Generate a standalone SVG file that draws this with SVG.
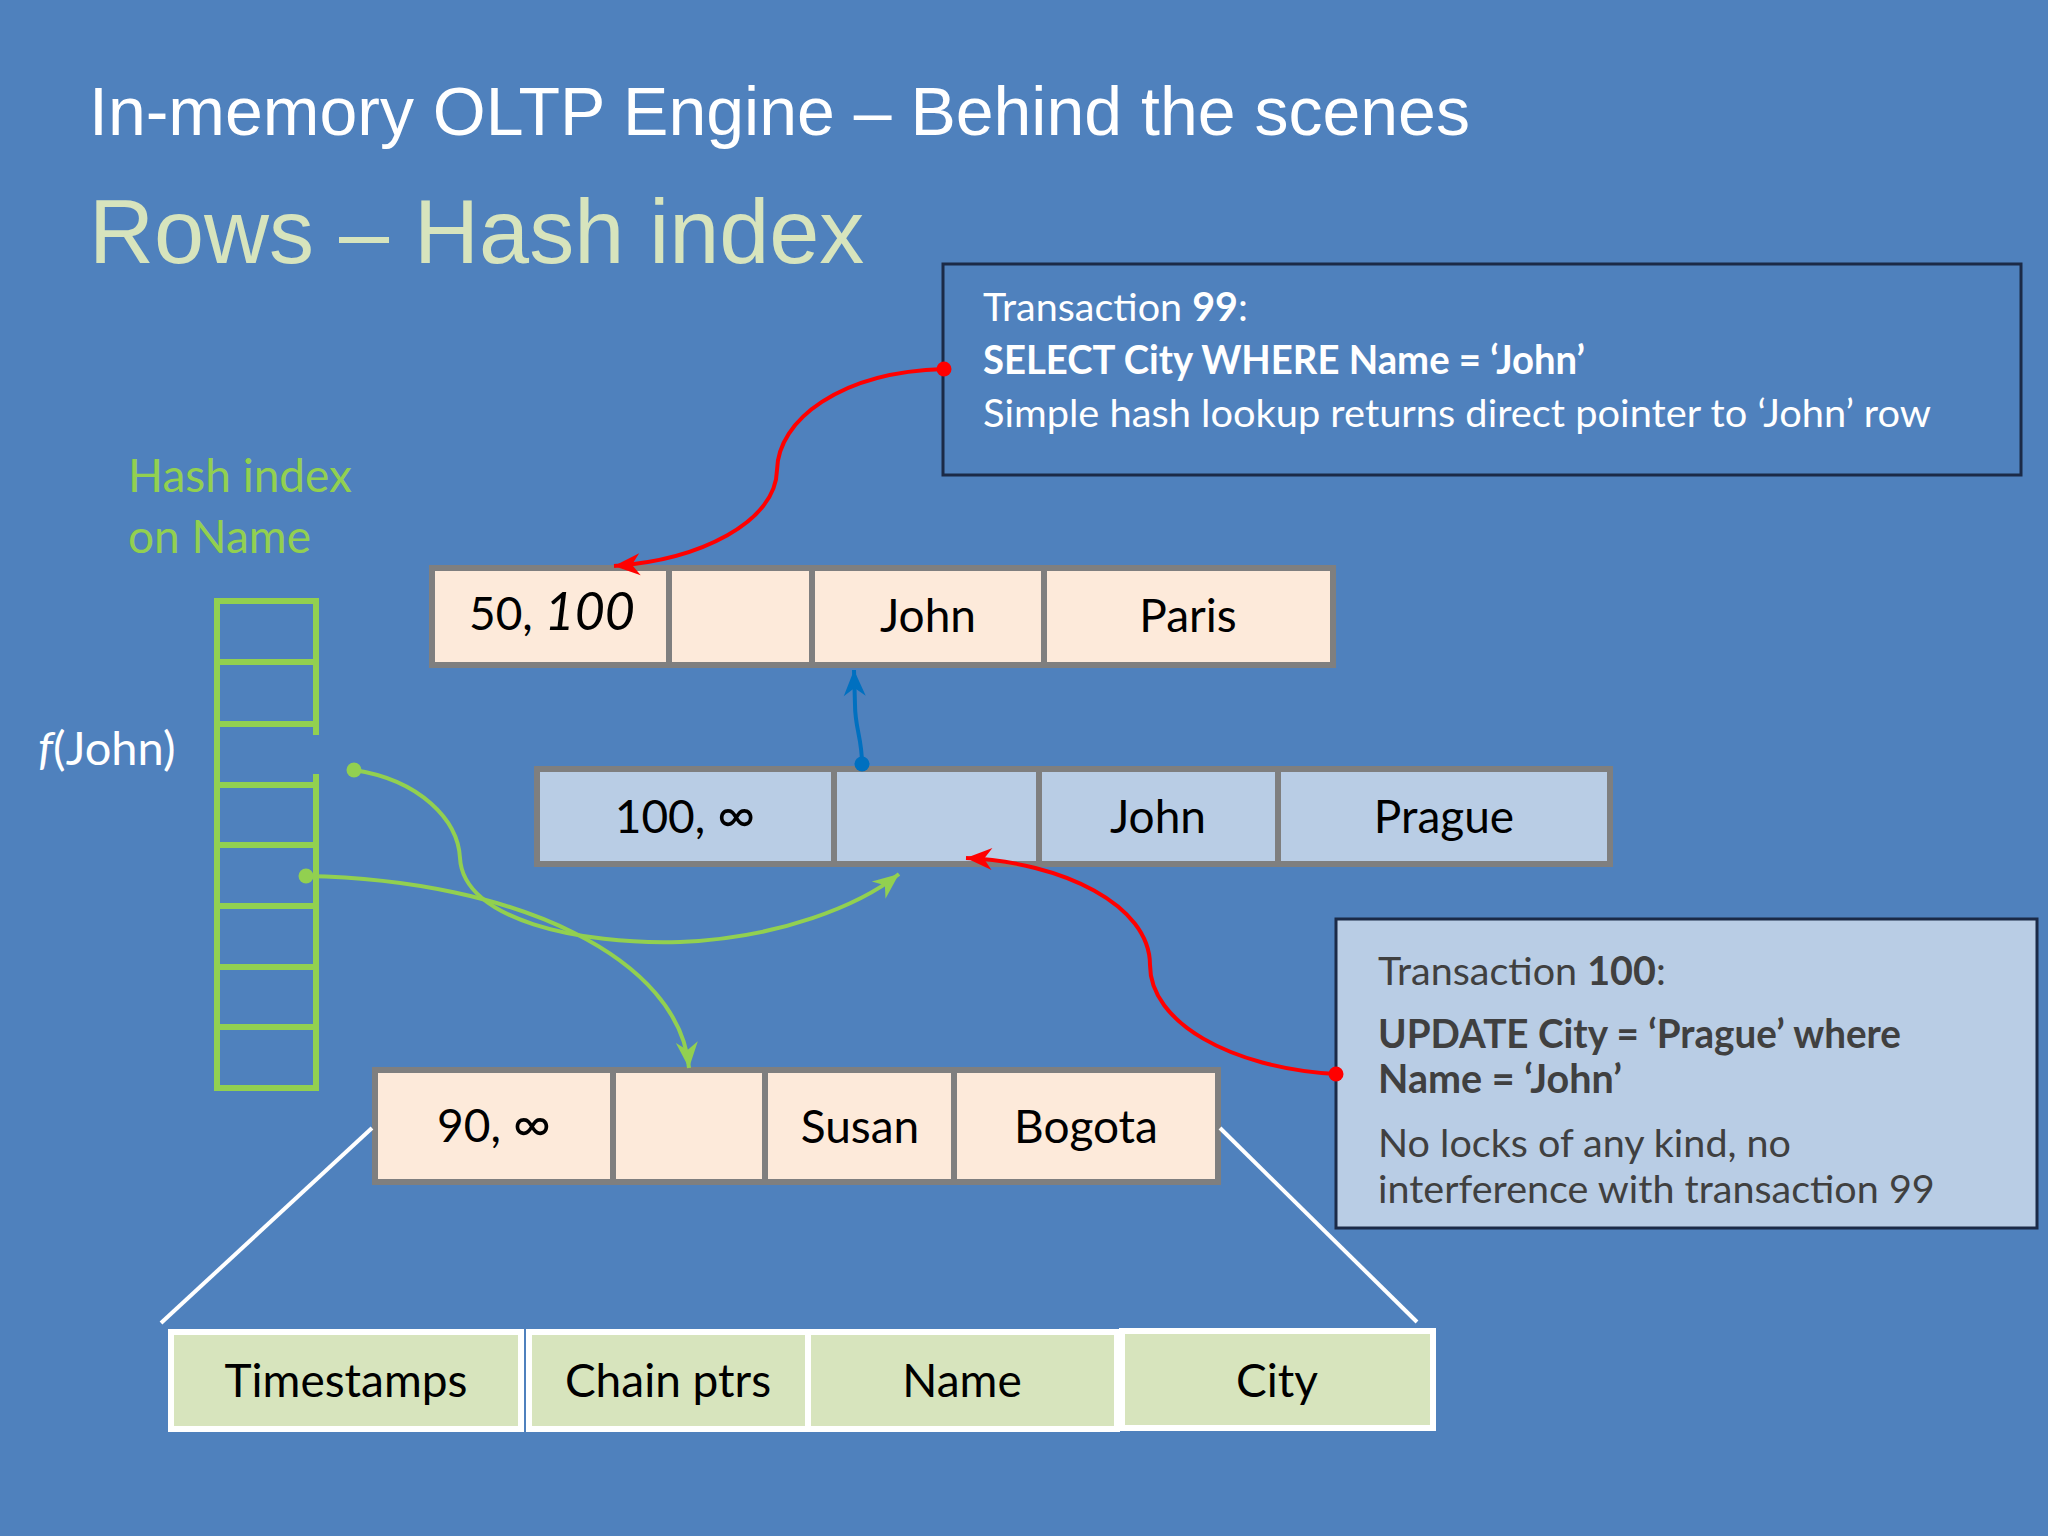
<svg xmlns="http://www.w3.org/2000/svg" width="2048" height="1536" viewBox="0 0 2048 1536">
  <defs>
    <style>
      .title { font-family: "Liberation Sans", Arial, sans-serif; }
      .cal { font-family: Lato, "Open Sans", sans-serif; }
      .cell { stroke: #7F7F7F; stroke-width: 6; }
      .div { stroke: #7F7F7F; stroke-width: 6; }
      .peach { fill: #FDEADA; }
      .lblue { fill: #B9CDE5; }
      .rowtxt { font-family: Lato, "Open Sans", sans-serif; font-size: 46px; fill: #000; text-anchor: middle; }
      .inf { font-size: 52px; }
      .legend rect { fill: #D7E4BD; stroke: #FFFFFF; stroke-width: 6; }
      .hash { stroke: #92D050; stroke-width: 6; fill: none; }
      .red { stroke: #FF0000; stroke-width: 4; fill: none; }
      .green { stroke: #92D050; stroke-width: 4; fill: none; }
      .blue { stroke: #0070C0; stroke-width: 4; fill: none; }
    </style>
    <marker id="arRed" viewBox="-28 -13 30 26" refX="0" refY="0" markerWidth="30" markerHeight="26" markerUnits="userSpaceOnUse" orient="auto">
      <path d="M0,0 L-26,-11 L-18,0 L-26,11 Z" fill="#FF0000"/>
    </marker>
    <marker id="arGreen" viewBox="-28 -13 30 26" refX="0" refY="0" markerWidth="30" markerHeight="26" markerUnits="userSpaceOnUse" orient="auto">
      <path d="M0,0 L-26,-11 L-18,0 L-26,11 Z" fill="#92D050"/>
    </marker>
    <marker id="arBlue" viewBox="-28 -13 30 26" refX="0" refY="0" markerWidth="30" markerHeight="26" markerUnits="userSpaceOnUse" orient="auto">
      <path d="M0,0 L-26,-11 L-18,0 L-26,11 Z" fill="#0070C0"/>
    </marker>
  </defs>

  <rect x="0" y="0" width="2048" height="1536" fill="#4F81BD"/>

  <text class="title" x="89" y="135" font-size="68" fill="#FFFFFF">In-memory OLTP Engine – Behind the scenes</text>
  <text class="title" x="89" y="263" font-size="90" fill="#D7E4BD">Rows – Hash index</text>

  <!-- Transaction 99 box -->
  <g id="tx99">
    <rect x="943" y="264" width="1078" height="211" fill="none" stroke="#1B2A47" stroke-width="3"/>
    <text class="cal" x="983" y="321" font-size="39.5" fill="#FFFFFF">Transaction <tspan font-weight="bold">99</tspan>:</text>
    <text class="cal" x="983" y="374" font-size="39.5" font-weight="bold" fill="#FFFFFF" textLength="602" lengthAdjust="spacingAndGlyphs">SELECT City WHERE Name = ‘John’</text>
    <text class="cal" x="983" y="427" font-size="39.5" fill="#FFFFFF" textLength="948" lengthAdjust="spacingAndGlyphs">Simple hash lookup returns direct pointer to ‘John’ row</text>
  </g>

  <!-- Hash index label -->
  <g id="hashlabel">
    <text class="cal" x="128" y="492" font-size="46" fill="#92D050">Hash index</text>
    <text class="cal" x="128" y="553" font-size="46" fill="#92D050">on Name</text>
  </g>

  <text id="fjohn" class="cal" x="38" y="765" font-size="47" fill="#FFFFFF"><tspan font-style="italic">f</tspan>(John)</text>

  <!-- Hash table -->
  <g id="hashtable" class="hash">
    <line x1="217" y1="601" x2="217" y2="1088"/>
    <line x1="316" y1="601" x2="316" y2="735"/>
    <line x1="316" y1="774" x2="316" y2="1088"/>
    <line x1="214" y1="601" x2="319" y2="601"/>
    <line x1="217" y1="662" x2="316" y2="662"/>
    <line x1="217" y1="724" x2="316" y2="724"/>
    <line x1="217" y1="785" x2="316" y2="785"/>
    <line x1="217" y1="845" x2="316" y2="845"/>
    <line x1="217" y1="906" x2="316" y2="906"/>
    <line x1="217" y1="967" x2="316" y2="967"/>
    <line x1="217" y1="1027" x2="316" y2="1027"/>
    <line x1="214" y1="1088" x2="319" y2="1088"/>
  </g>

  <!-- Row 1 -->
  <g id="row1">
    <rect class="cell peach" x="432" y="568" width="901" height="97"/>
    <line class="div" x1="669" y1="568" x2="669" y2="665"/>
    <line class="div" x1="812" y1="568" x2="812" y2="665"/>
    <line class="div" x1="1044" y1="568" x2="1044" y2="665"/>
    <text class="rowtxt" x="552" y="630">50, <tspan font-style="italic" font-size="52">100</tspan></text>
    <text class="rowtxt" x="928" y="632">John</text>
    <text class="rowtxt" x="1188" y="632">Paris</text>
  </g>

  <!-- Row 2 -->
  <g id="row2">
    <rect class="cell lblue" x="537" y="769" width="1073" height="95"/>
    <line class="div" x1="834" y1="769" x2="834" y2="864"/>
    <line class="div" x1="1039" y1="769" x2="1039" y2="864"/>
    <line class="div" x1="1278" y1="769" x2="1278" y2="864"/>
    <text class="rowtxt" x="685" y="833">100, <tspan class="inf">∞</tspan></text>
    <text class="rowtxt" x="1158" y="833">John</text>
    <text class="rowtxt" x="1444" y="833">Prague</text>
  </g>

  <!-- Row 3 -->
  <g id="row3">
    <rect class="cell peach" x="375" y="1070" width="843" height="112"/>
    <line class="div" x1="613" y1="1070" x2="613" y2="1182"/>
    <line class="div" x1="765" y1="1070" x2="765" y2="1182"/>
    <line class="div" x1="954" y1="1070" x2="954" y2="1182"/>
    <text class="rowtxt" x="494" y="1142">90, <tspan class="inf">∞</tspan></text>
    <text class="rowtxt" x="860" y="1143">Susan</text>
    <text class="rowtxt" x="1086" y="1143">Bogota</text>
  </g>

  <!-- Transaction 100 box -->
  <g id="tx100">
    <rect x="1336" y="919" width="701" height="309" fill="#B9CDE5" stroke="#1B2A47" stroke-width="3"/>
    <text class="cal" x="1378" y="985" font-size="39.5" fill="#404040">Transaction <tspan font-weight="bold">100</tspan>:</text>
    <text class="cal" x="1378" y="1048" font-size="39.5" font-weight="bold" fill="#404040" textLength="523" lengthAdjust="spacingAndGlyphs">UPDATE City = ‘Prague’ where</text>
    <text class="cal" x="1378" y="1093" font-size="39.5" font-weight="bold" fill="#404040">Name = ‘John’</text>
    <text class="cal" x="1378" y="1157" font-size="39.5" fill="#404040">No locks of any kind, no</text>
    <text class="cal" x="1378" y="1203" font-size="39.5" fill="#404040">interference with transaction 99</text>
  </g>

  <!-- Legend -->
  <g id="legend" class="legend">
    <line x1="372" y1="1128" x2="161" y2="1323" stroke="#FFFFFF" stroke-width="4"/>
    <line x1="1220" y1="1128" x2="1417" y2="1322" stroke="#FFFFFF" stroke-width="4"/>
    <rect x="171" y="1332" width="350" height="97"/>
    <rect x="529" y="1332" width="279" height="97"/>
    <rect x="808" y="1332" width="309" height="97"/>
    <rect x="1122" y="1331" width="311" height="97"/>
    <text class="rowtxt" x="346" y="1397">Timestamps</text>
    <text class="rowtxt" x="668" y="1397">Chain ptrs</text>
    <text class="rowtxt" x="962" y="1397">Name</text>
    <text class="rowtxt" x="1277" y="1397">City</text>
  </g>

  <!-- Connectors -->
  <g id="connectors">
    <path class="red" d="M944,369 C840,372 778,420 777,470 C776,522 700,560 614,566" marker-end="url(#arRed)"/>
    <circle cx="944" cy="369" r="7.5" fill="#FF0000"/>
    <path class="red" d="M1336,1074 C1230,1068 1150,1022 1150,965 C1150,905 1062,862 966,858" marker-end="url(#arRed)"/>
    <circle cx="1336" cy="1074" r="7.5" fill="#FF0000"/>
    <path class="blue" d="M862,764 C862,738 855,728 855,705 L854,670" marker-end="url(#arBlue)"/>
    <circle cx="862" cy="764" r="7.5" fill="#0070C0"/>
    <path class="green" d="M354,770 C420,780 458,820 460,858 C463,920 580,945 680,942 C780,938 860,905 899,874" marker-end="url(#arGreen)"/>
    <circle cx="354" cy="770" r="7.5" fill="#92D050"/>
    <path class="green" d="M306,876 C520,880 680,960 689,1068" marker-end="url(#arGreen)"/>
    <circle cx="306" cy="876" r="7.5" fill="#92D050"/>
  </g>
</svg>
